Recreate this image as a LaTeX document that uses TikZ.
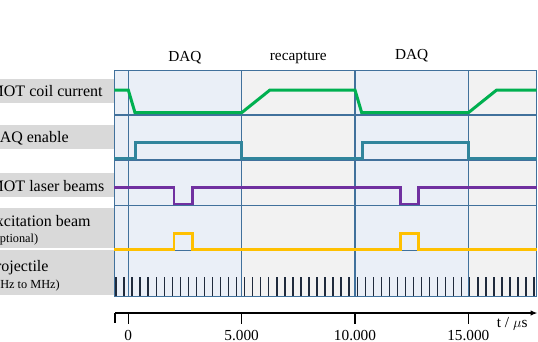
\documentclass[tikz,border=0pt]{standalone}
\usepackage{fontspec}
\setmainfont{Liberation Serif}
\usepackage{xcolor}
\usetikzlibrary{arrows.meta}

\definecolor{frameblue}{RGB}{65,113,156}
\definecolor{labelgray}{RGB}{217,217,217}
\definecolor{daqblue}{RGB}{234,239,247}
\definecolor{recgray}{RGB}{242,242,242}
\definecolor{coilgreen}{RGB}{0,176,80}
\definecolor{daqteal}{RGB}{49,133,156}
\definecolor{laserpurple}{RGB}{112,48,160}
\definecolor{excgold}{RGB}{255,192,0}
\definecolor{pulsenavy}{RGB}{31,42,60}

\begin{document}
\begin{tikzpicture}[x=1pt, y=-1pt]

        % 1. Define the layout (units of one pixel, y grows downward)
        \pgfmathsetmacro{\xL}{114.3}  % left edge of the frame
        \pgfmathsetmacro{\xR}{536.7}  % right edge of the frame
        \pgfmathsetmacro{\xT}{128.3}  % t = 0
        \pgfmathsetmacro{\xu}{113.35} % 5.000 us
        \pgfmathsetmacro{\yT}{70.7}   % top of the frame
        \pgfmathsetmacro{\yB}{296.7}  % bottom of the frame

        \clip (0,0) rectangle (538,341);

        \tikzset{
          frame/.style={draw=frameblue, line width=1.4pt},
          sig/.style={line width=2.6pt, line join=miter},
          pulse/.style={draw=pulsenavy, line width=1.4pt},
          axis/.style={draw=black, line width=1.3pt},
          txt/.style={font=\fontsize{15.3}{18}\selectfont, inner sep=0pt},
          rowtxt/.style={font=\fontsize{16}{18}\selectfont, inner sep=0pt},
          smalltxt/.style={font=\fontsize{12.3}{14}\selectfont, inner sep=0pt}
        }

        % 2. Gray boxes behind the row labels
        \fill[labelgray] (-5,79) rectangle (\xL,103);
        \fill[labelgray] (-5,125) rectangle (\xL,149);
        \fill[labelgray] (-5,172.7) rectangle (\xL,197.3);
        \fill[labelgray] (-5,207.7) rectangle (\xL,248.3);
        \fill[labelgray] (-5,250.3) rectangle (\xL,295);

        % 3. Column backgrounds (DAQ / recapture)
        \fill[daqblue] (\xL,\yT) rectangle (\xT+\xu,\yB);
        \fill[recgray] (\xT+\xu,\yT) rectangle (\xT+2*\xu,\yB);
        \fill[daqblue] (\xT+2*\xu,\yT) rectangle (\xT+3*\xu,\yB);
        \fill[recgray] (\xT+3*\xu,\yT) rectangle (\xR,\yB);

        % 4. Projectile pulses
        \foreach \i in {0,...,52}
          \draw[pulse] (116+8.04*\i,277) -- (116+8.04*\i,\yB);

        % 5. Grid lines
        \draw[frame] (\xL,\yT) rectangle (\xR,\yB);
        \foreach \y in {115,160,205.7,250.7}
          \draw[frame] (\xL,\y) -- (\xR,\y);
        \foreach \k in {0,...,3}
          \draw[frame] (\xT+\k*\xu,\yT) -- (\xT+\k*\xu,\yB);

        % 6. Signals
        % MOT coil current
        \draw[sig, coilgreen, line width=3pt] (\xL,90) -- (\xT,90) -- (\xT+6.7,112.7)
          -- (\xT+\xu,112.7) -- (\xT+\xu+28.3,90) -- (\xT+2*\xu,90)
          -- (\xT+2*\xu+6.7,112.7) -- (\xT+3*\xu,112.7) -- (\xT+3*\xu+28.3,90) -- (\xR,90);
        % DAQ enable
        \draw[sig, daqteal] (\xL,158.7) -- (\xT+7.4,158.7) -- (\xT+7.4,142.3)
          -- (\xT+\xu,142.3) -- (\xT+\xu,158.7) -- (\xT+2*\xu+7.4,158.7)
          -- (\xT+2*\xu+7.4,142.3) -- (\xT+3*\xu,142.3) -- (\xT+3*\xu,158.7) -- (\xR,158.7);
        % MOT laser beams
        \draw[sig, laserpurple] (\xL,187.7) -- (\xT+45.7,187.7) -- (\xT+45.7,204)
          -- (\xT+64,204) -- (\xT+64,187.7) -- (\xT+2*\xu+45.3,187.7)
          -- (\xT+2*\xu+45.3,204) -- (\xT+2*\xu+63.5,204) -- (\xT+2*\xu+63.5,187.7) -- (\xR,187.7);
        % Excitation beam
        \draw[sig, excgold] (\xL,249.3) -- (\xT+45.7,249.3) -- (\xT+45.7,233.3)
          -- (\xT+64,233.3) -- (\xT+64,249.3) -- (\xT+2*\xu+45.3,249.3)
          -- (\xT+2*\xu+45.3,233.3) -- (\xT+2*\xu+63.5,233.3) -- (\xT+2*\xu+63.5,249.3) -- (\xR,249.3);

        % 7. Phase labels on top
        \node[txt, anchor=base] (daqA) at (\xT+0.5*\xu,61) {DAQ};
        \node[txt, anchor=base] (recap) at (\xT+1.5*\xu,60) {recapture};
        \node[txt, anchor=base] (daqB) at (\xT+2.5*\xu,59) {DAQ};

        % 8. Row labels
        \node[rowtxt, anchor=base west] (lblCoil) at (-10.5,96) {MOT coil current};
        \node[rowtxt, anchor=base west] (lblDaq) at (-12,142.5) {DAQ enable};
        \node[rowtxt, anchor=base west] (lblLaser) at (-10.5,191.5) {MOT laser beams};
        \node[rowtxt, anchor=base west] (lblExc) at (-14,226.5) {Excitation beam};
        \node[smalltxt, anchor=base west] (lblExcSub) at (-10.5,242) {(optional)};
        \node[rowtxt, anchor=base west] (lblProj) at (-13,271) {Projectile};
        \node[smalltxt, anchor=base west] (lblProjSub) at (-4,288.5) {(Hz to MHz)};

        % 9. Time axis
        \coordinate (axStart) at (115,313);
        \coordinate (axEnd) at (537.5,313);
        \draw[axis, -{Latex[length=7pt,width=5.5pt]}] (axStart) -- (axEnd);
        \draw[axis] (axStart) -- ++(0,10);
        \foreach \k/\lab in {0/0,1/5.000,2/10.000,3/15.000} {
          \draw[axis] (\xT+\k*\xu,313) -- ++(0,11);
          \node[txt, anchor=base] (tick\k) at (\xT+\k*\xu,340.5) {\lab};
        }
        \node[txt, anchor=base west] (tUnit) at (496.7,327.5) {t / $\mu$s};

\end{tikzpicture}
\end{document}
